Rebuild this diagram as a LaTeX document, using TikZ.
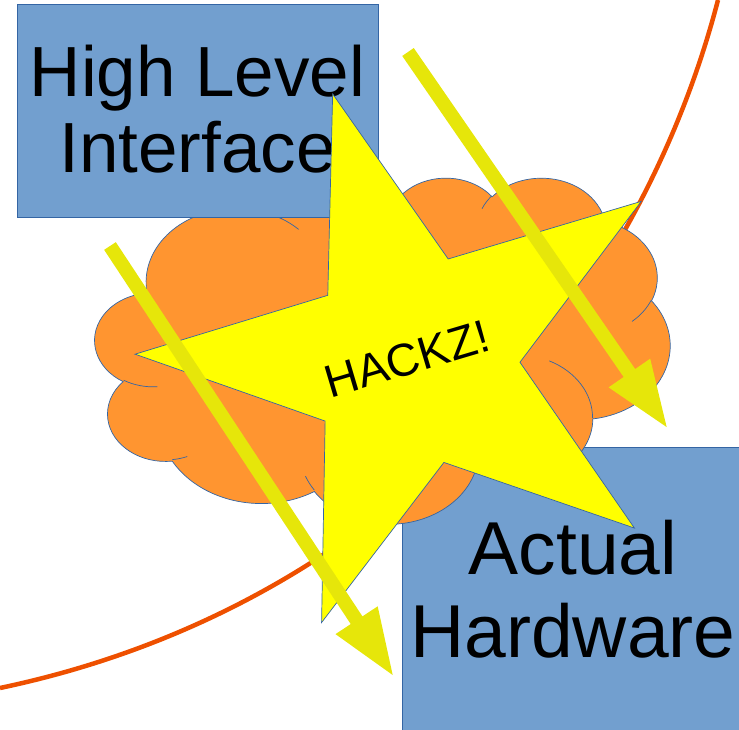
\documentclass[tikz,border=0pt]{standalone}
\usepackage{fontspec}
\setmainfont{Liberation Sans}
\usetikzlibrary{arrows.meta}
\definecolor{boxblue}{HTML}{729FCF}
\definecolor{lineblue}{HTML}{3465A4}
\definecolor{cloudorange}{RGB}{255,149,48}
\definecolor{curvered}{RGB}{238,80,0}
\definecolor{staryellow}{HTML}{FFFF00}
\definecolor{hackyellow}{RGB}{230,230,10}
\tikzset{
	box/.style={draw=lineblue, line width=0.7pt, fill=boxblue, inner sep=0pt},
	boxtext/.style={inner sep=0pt, anchor=base},
	thinline/.style={draw=lineblue, line width=0.7pt},
	hackarrow/.style={draw=hackyellow, line width=14pt, -{Triangle[width=46pt,length=68pt]}},
}
% arc angles given as seen, turned into ellipse angles
\pgfkeys{/pgf/foreach/puff/.style={
	evaluate=\s as \tS using {atan2(\w*sin(\s),\h*cos(\s))-360*round((atan2(\w*sin(\s),\h*cos(\s))-\s)/360)},
	evaluate=\s as \tE using {atan2(\w*sin(\s+\d),\h*cos(\s+\d))-360*round((atan2(\w*sin(\s+\d),\h*cos(\s+\d))-\s-\d)/360)}}}

\begin{document}
\begin{tikzpicture}[x=1pt,y=-1pt]
			\useasboundingbox (0,0) rectangle (739,730);
			\draw[curvered, line width=4.5pt] (0,688) .. controls (400,604) and (640,300) .. (718,0);
			\node[box, minimum width=343pt, minimum height=320pt] (hw) at (573.5,607) {};
			% cloud, in a 432 x 432 frame
			\begin{scope}[shift={(95,177)}, x=1.331pt, y=-0.801pt]
				\draw[thinline, fill=cloudorange] (39.00,143.70)
					\foreach \w/\h/\s/\d [puff] in {67.53/91.90/-190.487/123.781, 53.33/72.67/-144.102/89.945,
						43.65/59.45/-145.808/99.723, 48.57/65.95/-130.986/117.242, 53.33/72.73/-78.709/109.027,
						67.75/92.20/-46.267/130.269, 57.85/78.67/0.625/114.033, 67.52/92.15/22.452/115.173,
						77.20/105.43/66.243/75.711, 43.60/59.18/-274.942/146.736, 43.45/59.45/-246.829/152.519}
					{ arc[x radius=\w, y radius=\h, start angle=\tS, end angle=\tE] } -- cycle;
				\draw[thinline]
					\foreach \mx/\my/\w/\h/\s/\d [puff] in {46.93/261.77/43.45/59.45/86.742/26.430,
						69.28/348.99/43.60/59.18/73.611/11.447, 164.78/390.90/67.52/92.15/137.624/14.081,
						288.27/347.51/67.52/92.15/6.453/15.998, 341.29/229.54/57.85/78.67/-70.292/70.917,
						417.98/153.54/53.33/72.73/30.318/27.752, 383.24/54.26/48.57/65.95/-13.744/14.859,
						290.78/39.52/48.57/65.95/-149.181/18.195, 221.41/47.20/43.65/59.45/-163.494/17.686,
						140.00/51.92/67.53/91.90/-66.707/12.319, 41.27/157.89/67.53/91.90/157.654/11.858}
					{ (\mx,\my) arc[x radius=\w, y radius=\h, start angle=\tS, end angle=\tE] };
			\end{scope}
			\node[box, minimum width=361pt, minimum height=213pt] (hli) at (197.5,110.5) {};
			\node[boxtext, font=\fontsize{71}{76}\selectfont] (hliA) at (197.5,97) {High Level};
			\node[boxtext, font=\fontsize{71}{76}\selectfont] (hliB) at (197.5,173) {Interface};
			\node[boxtext, font=\fontsize{75}{80}\selectfont] (hwA) at (573,574) {Actual};
			\node[boxtext, font=\fontsize{75}{80}\selectfont] (hwB) at (573,657) {Hardware};
			\begin{scope}[shift={(413,360)}]
				\draw[thinline, fill=staryellow] (-106.8:278) -- (-70.8:107) -- (-34.8:278) -- (1.2:107) -- (37.2:278) -- (73.2:107) -- (109.2:278) -- (145.2:107) -- (181.2:278) -- (217.2:107) -- cycle;
			\end{scope}
			\node[rotate=16.6, font=\fontsize{46}{50}\selectfont, inner sep=0pt] (hackz) at (407,359) {HACKZ!};
			\coordinate (leftFrom) at (110,246);
			\coordinate (leftTo) at (394,677);
			\coordinate (rightFrom) at (408,52);
			\coordinate (rightTo) at (668,429);
			\draw[hackarrow] (leftFrom) -- (leftTo);
			\draw[hackarrow] (rightFrom) -- (rightTo);
\end{tikzpicture}
\end{document}
